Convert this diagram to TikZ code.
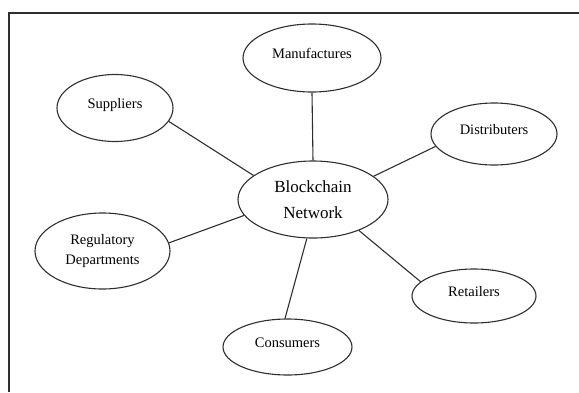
\documentclass[tikz,border=0pt]{standalone}
\usepackage{fontspec}
\setmainfont{Liberation Serif}
\usetikzlibrary{shapes.geometric}
\definecolor{ink}{HTML}{2E2E2E}
\tikzset{
  bub/.style={ellipse, draw=ink, line width=1.1pt, inner sep=0pt, font=\fontsize{14.5}{17}\selectfont, text=black},
  lift/.style={text height=9pt, text depth=9pt},
  link/.style={draw=ink, line width=1.1pt},
}
\begin{document}
\begin{tikzpicture}[x=1pt,y=-1pt]
\useasboundingbox (0,0) rectangle (579,392);
\draw[ink, line width=2pt] (9,392) -- (9,13) -- (579,13);

\node[bub, minimum width=150pt, minimum height=77pt, align=center, font=\fontsize{17}{26}\selectfont] (bn) at (313,199.5) {Blockchain\\Network};
\node[bub, lift, minimum width=138pt, minimum height=68pt] (man) at (312,58) {Manufactures};
\node[bub, lift, minimum width=116pt, minimum height=67pt] (sup) at (115,108) {Suppliers};
\node[bub, lift, minimum width=126pt, minimum height=62pt] (dis) at (494,134) {Distributers};
\node[bub, minimum width=135pt, minimum height=76pt, align=center, font=\fontsize{14.5}{20}\selectfont] (reg) at (102.5,251) {Regulatory\\Departments};
\node[bub, lift, minimum width=124pt, minimum height=54pt] (ret) at (474,296) {Retailers};
\node[bub, lift, minimum width=129pt, minimum height=56pt] (con) at (287.5,347) {Consumers};

\draw[link] (man.south) -- (bn.north);
\draw[link] (sup.346) -- (bn.158);
\draw[link] (dis.192) -- (bn.21);
\draw[link] (reg.7) -- (bn.193.5);
\draw[link] (ret.165) -- (bn.326.6);
\draw[link] (con.95) -- (bn.261);
\end{tikzpicture}
\end{document}
